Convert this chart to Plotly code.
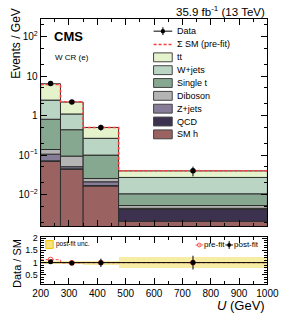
import plotly.graph_objects as go
import numpy as np

# ---------------- data ----------------
edges = [200, 270, 350, 475, 1000]
smh = [0.0696, 0.0439, 0.0165, 0.00211]
qcd = [0.002, 0.001, 0.0005, 0.00218]
zjets = [0.034, 0.006, 0.0041, 0.0002]
diboson = [0.033, 0.0434, 0.0045, 0.0008]
singlet = [0.669, 0.345, 0.0744, 0.0052]
wjets = [1.66, 0.66, 0.166, 0.0167]
ttbar = [3.95, 1.10, 0.234, 0.0127]
prefit_total = [6.1, 2.25, 0.50, 0.040]
data = [6.5, 2.2, 0.50, 0.040]
data_err = [0.3, 0.17, 0.08, 0.011]
ratio_post = [1.04, 0.98, 0.99, 1.00]
ratio_post_err = [0.04, 0.05, 0.17, 0.28]
ratio_pre = [1.12, 0.99, 1.00, 1.00]
postfit_unc = [0.07, 0.07, 0.08, 0.23]

legend_labels = ["Data", "\u03a3 SM (pre-fit)", "tt", "W+jets", "Single t",
                 "Diboson", "Z+jets", "QCD", "SM h"]

W, H = 299, 322
def px(x): return x / W
def py(y): return 1 - y / H

e = np.array(edges, dtype=float)
centers = (e[:-1] + e[1:]) / 2
widths = np.diff(e)

stack = [("SM h", smh, "#9b6262"), ("QCD", qcd, "#3d3150"),
         ("Z+jets", zjets, "#877d99"), ("Diboson", diboson, "#b4b4b4"),
         ("Single t", singlet, "#87a890"), ("W+jets", wjets, "#bad5c3"),
         ("tt", ttbar, "#e5f3cd")]
colors = {n: c for n, _, c in stack}

fig = go.Figure()
cum = np.zeros(len(centers))
for i, (name, vals, col) in enumerate(stack):
    v = np.array(vals)
    fig.add_trace(go.Bar(x=centers, y=v, width=widths,
                         base=None if i == 0 else cum.copy(),
                         marker=dict(color=col, line=dict(color="#2e2e2e", width=1)),
                         name=name, showlegend=False, xaxis="x", yaxis="y"))
    cum = cum + v

fig.add_trace(go.Scatter(x=e, y=list(prefit_total) + [prefit_total[-1]],
                         mode="lines", line=dict(shape="hv", color="#ff3b3b", dash="3px,2px", width=1.5),
                         showlegend=False, xaxis="x", yaxis="y"))
fig.add_trace(go.Scatter(x=centers, y=data, mode="markers",
                         marker=dict(color="black", size=5.5),
                         error_y=dict(type="data", array=data_err, color="black", thickness=1, width=0),
                         showlegend=False, xaxis="x", yaxis="y"))

# ratio panel
u = np.array(postfit_unc)
fig.add_trace(go.Bar(x=centers, y=2 * u, base=1 - u, width=widths,
                     marker=dict(color="#f6eca4", line=dict(width=0)),
                     showlegend=False, xaxis="x2", yaxis="y2"))
fig.add_trace(go.Scatter(x=e, y=list(ratio_pre) + [ratio_pre[-1]], mode="lines",
                         line=dict(shape="hv", color="#ff6a6a", dash="3px,2px", width=1.3),
                         showlegend=False, xaxis="x2", yaxis="y2"))
fig.add_trace(go.Scatter(x=centers, y=ratio_pre, mode="markers",
                         marker=dict(symbol="circle-open", color="#ff5050", size=5, line=dict(width=1)),
                         showlegend=False, xaxis="x2", yaxis="y2"))
fig.add_trace(go.Scatter(x=centers, y=ratio_post, mode="markers",
                         marker=dict(color="black", size=5),
                         error_y=dict(type="data", array=ratio_post_err, color="black", thickness=1, width=0),
                         showlegend=False, xaxis="x2", yaxis="y2"))

shapes = [dict(type="line", xref="x2", yref="y2", x0=edges[0], x1=edges[-1], y0=1, y1=1,
               line=dict(color="black", width=1), layer="above")]

# manual legend (main)
row_y = [27.5, 41, 54, 67, 80, 93, 106, 119, 132]
lx0, lx1, tx = 156, 176, 179
for lab, yy in zip(legend_labels, row_y):
    if lab == "Data":
        shapes.append(dict(type="line", xref="paper", yref="paper", x0=px(lx0), x1=px(lx1),
                           y0=py(yy), y1=py(yy), line=dict(color="black", width=1)))
        shapes.append(dict(type="line", xref="paper", yref="paper", x0=px(166), x1=px(166),
                           y0=py(yy - 4), y1=py(yy + 4), line=dict(color="black", width=1)))
        shapes.append(dict(type="circle", xref="paper", yref="paper", x0=px(163.7), x1=px(168.3),
                           y0=py(yy - 2.3), y1=py(yy + 2.3), fillcolor="black", line=dict(color="black", width=0)))
    elif lab.startswith("\u03a3"):
        shapes.append(dict(type="line", xref="paper", yref="paper", x0=px(lx0), x1=px(lx1),
                           y0=py(yy), y1=py(yy), line=dict(color="#ff3b3b", width=1.3, dash="3px,2px")))
    else:
        shapes.append(dict(type="rect", xref="paper", yref="paper", x0=px(lx0), x1=px(lx1),
                           y0=py(yy - 4.5), y1=py(yy + 4.5), fillcolor=colors[lab],
                           line=dict(color="#444", width=1)))

# ratio legend
shapes.append(dict(type="rect", xref="paper", yref="paper", x0=px(40.5), x1=px(48.5),
                   y0=py(247.5), y1=py(239.5), fillcolor="#f8e27a", line=dict(color="#f5c400", width=1)))
shapes.append(dict(type="line", xref="paper", yref="paper", x0=px(201), x1=px(209),
                   y0=py(244), y1=py(244), line=dict(color="#ff5050", width=1, dash="2px,1px")))
shapes.append(dict(type="circle", xref="paper", yref="paper", x0=px(203), x1=px(207),
                   y0=py(246), y1=py(242), line=dict(color="#ff5050", width=1)))
shapes.append(dict(type="line", xref="paper", yref="paper", x0=px(233), x1=px(241),
                   y0=py(244), y1=py(244), line=dict(color="black", width=1)))
shapes.append(dict(type="line", xref="paper", yref="paper", x0=px(237), x1=px(237),
                   y0=py(240), y1=py(248), line=dict(color="black", width=1)))
shapes.append(dict(type="circle", xref="paper", yref="paper", x0=px(235), x1=px(239),
                   y0=py(246), y1=py(242), fillcolor="black", line=dict(color="black", width=0)))

FONT = "Liberation Sans, Arial, sans-serif"
ann = []
for lab, yy in zip(legend_labels, row_y):
    ann.append(dict(text=lab, x=px(tx), y=py(yy), xref="paper", yref="paper",
                    xanchor="left", yanchor="middle", showarrow=False,
                    font=dict(size=9, color="black", family=FONT)))
ann += [
    dict(text="<b>CMS</b>", x=px(47), y=py(33), xref="paper", yref="paper", xanchor="left",
         yanchor="middle", showarrow=False, font=dict(size=13, color="black", family=FONT)),
    dict(text="W CR (e)", x=px(48), y=py(54), xref="paper", yref="paper", xanchor="left",
         yanchor="middle", showarrow=False, font=dict(size=8, color="black", family=FONT)),
    dict(text="35.9 fb<sup>-1</sup> (13 TeV)", x=px(278), y=py(7), xref="paper", yref="paper",
         xanchor="right", yanchor="middle", showarrow=False, font=dict(size=11.5, color="black", family=FONT)),
    dict(text="Events / GeV", x=px(9), y=py(2), xref="paper", yref="paper", xanchor="center",
         yanchor="top", textangle=-90, showarrow=False, font=dict(size=12, color="black", family=FONT)),
    dict(text="Data / SM", x=px(9), y=py(236), xref="paper", yref="paper", xanchor="center",
         yanchor="top", textangle=-90, showarrow=False, font=dict(size=11, color="black", family=FONT)),
    dict(text="<i>U</i> (GeV)", x=px(278), y=py(305), xref="paper", yref="paper", xanchor="right",
         yanchor="middle", showarrow=False, font=dict(size=13, color="black", family=FONT)),
    dict(text="post-fit unc.", x=px(49.5), y=py(243.5), xref="paper", yref="paper", xanchor="left",
         yanchor="middle", showarrow=False, font=dict(size=6.5, color="black", family=FONT)),
    dict(text="pre-fit", x=px(207.5), y=py(244), xref="paper", yref="paper", xanchor="left",
         yanchor="middle", showarrow=False, font=dict(size=8, color="black", family=FONT)),
    dict(text="post-fit", x=px(240.5), y=py(244), xref="paper", yref="paper", xanchor="left",
         yanchor="middle", showarrow=False, font=dict(size=8, color="black", family=FONT)),
]

xcommon = dict(range=[edges[0], edges[-1]], domain=[px(35), px(278)], showline=True,
               linecolor="black", linewidth=1, mirror="allticks", ticks="inside", ticklen=6,
               tickcolor="black", tick0=200, dtick=100, showgrid=False, zeroline=False,
               minor=dict(ticks="inside", ticklen=3, dtick=50, tickcolor="black", showgrid=False))

fig.update_layout(
    width=W, height=H, margin=dict(l=0, r=0, t=0, b=0),
    paper_bgcolor="white", plot_bgcolor="white", barmode="overlay", bargap=0,
    hovermode=False,
    font=dict(family=FONT, size=10, color="black"),
    xaxis=dict(**xcommon, anchor="y", showticklabels=False),
    yaxis=dict(type="log", range=[-2.8, 2.45], domain=[py(225), py(15)], anchor="x",
               showline=True, linecolor="black", linewidth=1, mirror="allticks",
               ticks="inside", ticklen=6, tickcolor="black", showgrid=False, zeroline=False,
               tickvals=[0.01, 0.1, 1, 10, 100],
               ticktext=["10<sup>\u22122</sup>", "10<sup>\u22121</sup>", "1", "10", "10<sup>2</sup>"],
               tickfont=dict(size=10),
               minor=dict(ticks="inside", ticklen=3, tickcolor="black", showgrid=False)),
    xaxis2=dict(**xcommon, anchor="y2", matches="x", showticklabels=True, tickfont=dict(size=10)),
    yaxis2=dict(range=[0.14, 2.05], domain=[py(283.3), py(235.7)], anchor="x2",
                showline=True, linecolor="black", linewidth=1, mirror="allticks",
                ticks="inside", ticklen=5, tickcolor="black", showgrid=False, zeroline=False,
                tickvals=[0.5, 1, 1.5, 2], tickfont=dict(size=9),
                minor=dict(ticks="inside", ticklen=3, dtick=0.1, tickcolor="black", showgrid=False)),
    shapes=shapes, annotations=ann,
)

# the page's default 8px body margin would push the figure off the window edges
fig.write_html("out.html", config={"displayModeBar": False, "staticPlot": True},
               post_script="document.body.style.margin='0px';")
